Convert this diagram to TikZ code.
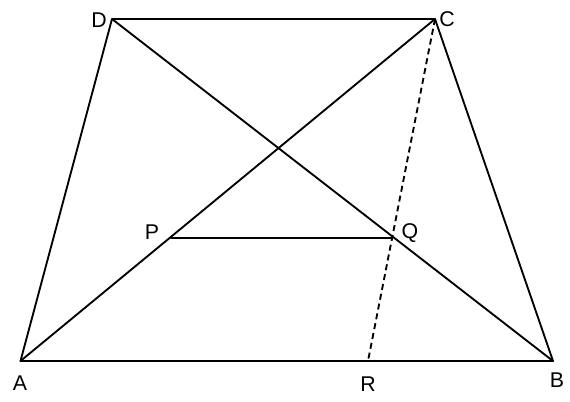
\documentclass[tikz,border=0pt]{standalone}
\usepackage{fontspec}
\setmainfont{Liberation Sans}
\begin{document}
\begin{tikzpicture}[x=0.75pt,y=-0.75pt,
  seg/.style={line width=1.4pt, line cap=round, line join=round},
  dsh/.style={line width=1.4pt, dash pattern=on 4.5pt off 3pt},
  lab/.style={font=\fontsize{16}{19}\selectfont, inner sep=0pt}]
\useasboundingbox (0,0) rectangle (570,402);
\coordinate (A) at (20.5,361);
\coordinate (B) at (553,361);
\coordinate (C) at (435,19);
\coordinate (D) at (112,19);
\coordinate (P) at (171,238);
\coordinate (Q) at (392,238);
\coordinate (R) at (368,361);
\draw[seg] (A) -- (B) -- (C) -- (D) -- cycle;
\draw[seg] (A) -- (C);
\draw[seg] (D) -- (B);
\draw[seg] (P) -- (Q);
\draw[dsh] (C) -- (R);
\node[lab] (lA) at (20,383) {A};
\node[lab] (lB) at (557,380) {B};
\node[lab] (lC) at (447,19) {C};
\node[lab] (lD) at (99,20) {D};
\node[lab] (lP) at (152,232) {P};
\node[lab] (lQ) at (410,233) {Q};
\node[lab] (lR) at (368,384) {R};
\end{tikzpicture}
\end{document}
